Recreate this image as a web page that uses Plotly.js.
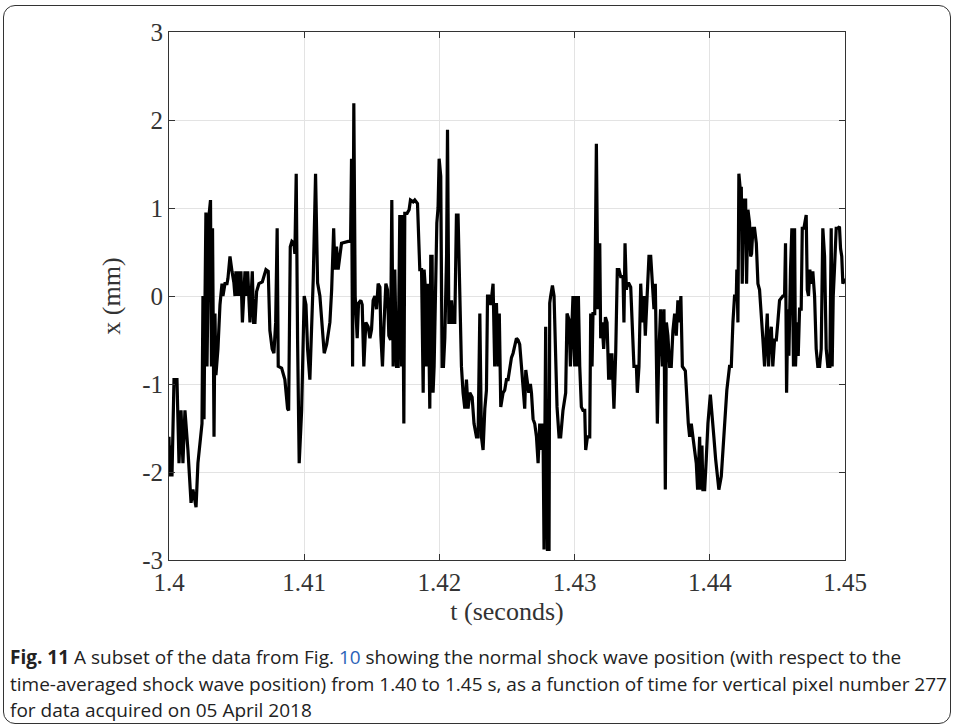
<!DOCTYPE html>
<html>
<head>
<meta charset="utf-8">
<script src="https://cdn.plot.ly/plotly-3.0.1.min.js"></script>
<style>
html,body{margin:0;padding:0;background:#fff;}
#wrap{position:relative;width:955px;height:728px;overflow:hidden;}
#frame{position:absolute;left:3px;top:5px;width:948px;height:719px;border:1.5px solid #333;border-radius:12px;box-sizing:border-box;pointer-events:none;}
#chart{position:absolute;left:0;top:0;width:955px;height:728px;}
</style>
</head>
<body>
<div id="wrap"><div id="chart"></div><div id="frame"></div></div>
<script>
// time (s)
const timeS = [
1.40000,1.40007,1.40015,1.40022,1.40037,1.40059,1.40074,1.40089,1.40103,1.40118,1.40140,1.40163,1.40177,1.40192,1.40200,1.40214,1.40244,1.40251,1.40259,1.40266,1.40273,1.40281,1.40296,1.40307,1.40314,1.40322,1.40333,1.40340,1.40347,1.40362,1.40377,1.40392,1.40399,1.40414,1.40429,1.40436,1.40451,1.40466,1.40480,1.40488,1.40495,1.40503,1.40514,1.40525,1.40532,1.40543,
1.40562,1.40574,1.40582,1.40599,1.40616,1.40626,1.40636,1.40648,1.40665,1.40690,1.40702,1.40717,1.40734,1.40746,1.40763,1.40776,1.40789,1.40800,1.40808,1.40833,1.40857,1.40877,1.40885,1.40897,1.40909,1.40924,1.40931,1.40941,1.40951,1.40963,1.40981,1.41000,1.41013,1.41025,1.41042,1.41055,1.41067,1.41084,1.41099,1.41116,1.41133,1.41148,1.41166,1.41190,
1.41203,1.41218,1.41227,1.41239,1.41251,1.41264,1.41276,1.41325,1.41343,1.41350,1.41358,1.41367,1.41377,1.41392,1.41402,1.41419,1.41429,1.41441,1.41456,1.41473,1.41486,1.41498,1.41510,1.41523,1.41535,1.41547,1.41560,1.41567,1.41579,1.41591,1.41604,1.41616,1.41626,1.41639,1.41648,1.41658,1.41670,1.41683,1.41695,1.41707,1.41720,1.41727,1.41737,1.41744,1.41761,1.41776,1.41786,1.41806,1.41818,1.41838,
1.41855,1.41868,1.41880,1.41887,1.41897,1.41905,1.41917,1.41929,1.41936,1.41946,1.41953,1.41961,1.41971,1.41981,1.41990,1.41998,1.42010,1.42020,1.42030,1.42040,1.42053,1.42060,1.42070,1.42079,1.42089,1.42101,1.42114,1.42126,1.42138,1.42151,1.42163,1.42175,1.42188,1.42200,1.42212,1.42225,1.42242,1.42256,1.42274,1.42286,1.42299,1.42311,1.42323,1.42336,1.42348,1.42356,1.42365,1.42380,1.42397,1.42409,1.42422,1.42434,1.42443,
1.42454,1.42471,1.42483,1.42496,1.42508,1.42520,1.42533,1.42545,1.42557,1.42570,1.42582,1.42594,1.42607,1.42619,1.42631,1.42639,1.42648,1.42661,1.42673,1.42681,1.42693,1.42705,1.42718,1.42730,1.42742,1.42755,1.42766,1.42774,1.42786,1.42799,1.42811,1.42816,1.42823,1.42836,1.42848,1.42860,1.42870,1.42885,1.42897,1.42914,1.42934,1.42944,1.42959,1.42969,1.42976,1.42988,1.43001,1.43008,1.43018,1.43028,1.43038,1.43050,1.43062,
1.43075,1.43082,1.43095,1.43112,1.43119,1.43129,1.43136,1.43149,1.43161,1.43173,1.43186,1.43193,1.43203,1.43215,1.43228,1.43240,1.43252,1.43259,1.43267,1.43276,1.43291,1.43304,1.43316,1.43328,1.43341,1.43358,1.43365,1.43373,1.43383,1.43390,1.43402,1.43415,1.43427,1.43439,1.43457,1.43464,1.43476,1.43489,1.43501,1.43513,1.43523,1.43538,1.43550,1.43563,1.43575,1.43587,1.43597,1.43612,1.43622,1.43636,1.43649,1.43661,1.43671,1.43679,1.43690,1.43703,1.43715,1.43727,
1.43740,1.43752,1.43764,1.43777,1.43786,1.43797,1.43819,1.43831,1.43841,1.43851,1.43863,1.43875,1.43888,1.43900,1.43910,1.43925,1.43932,1.43942,1.43949,1.43962,1.43974,1.43986,1.44004,1.44018,1.44030,1.44043,1.44055,1.44067,1.44085,1.44097,1.44109,1.44126,1.44146,1.44159,1.44171,1.44183,1.44196,1.44200,1.44208,1.44215,1.44226,1.44233,1.44240,1.44250,1.44265,1.44272,1.44282,1.44294,1.44302,1.44309,1.44319,1.44331,1.44344,1.44356,
1.44368,1.44381,1.44393,1.44405,1.44418,1.44425,1.44435,1.44442,1.44455,1.44466,1.44479,1.44492,1.44503,1.44516,1.44540,1.44553,1.44560,1.44568,1.44577,1.44585,1.44597,1.44607,1.44619,1.44627,1.44634,1.44644,1.44654,1.44664,1.44676,1.44684,1.44696,1.44706,1.44713,1.44721,1.44730,1.44740,1.44750,1.44762,1.44775,1.44787,1.44799,1.44812,1.44824,1.44836,1.44849,1.44861,1.44873,1.44888,1.44898,1.44905,1.44913,1.44922,1.44935,1.44947,1.44959,1.44967,1.44976,1.44984,1.45000
];
// shock position (mm)
const positionMm = [
-1.6,-2.05,-1.7,-2.05,-0.95,-0.95,-1.9,-1.3,-1.9,-1.3,-1.75,-2.35,-2.2,-2.35,-2.4,-1.9,-1.45,0,-1.4,-0.1,0.95,-0.8,0.92,1.09,-0.8,0.77,-1.6,-0.2,-0.9,-0.6,-0.1,0.14,0,0.14,0.14,0.2,0.45,0.28,0.15,0,0.28,0,0.28,0,0.28,-0.3,
0.28,0,0.28,-0.3,0.28,-0.3,-0.3,0.05,0.14,0.16,0.22,0.3,0.28,-0.39,-0.6,-0.65,-0.3,0.77,-0.8,-0.82,-0.95,-1.28,-1.3,0.56,0.62,0.6,0.48,1.39,-0.5,-1.9,-1.3,0,-0.1,-0.6,-0.95,-0.3,0.2,1.39,0.15,0,-0.3,-0.65,-0.55,-0.3,
0.07,0.77,0.3,0.56,0.3,0.45,0.6,0.62,0.62,1.56,-0.8,2.19,0,-0.48,-0.08,-0.05,-0.1,-0.8,-0.3,-0.35,-0.48,-0.38,-0.05,0,-0.15,0.14,0.1,-0.45,-0.8,-0.3,0.14,0.07,-0.45,-0.5,1.09,-0.8,0.3,-0.8,-0.8,0.92,-0.8,0.92,-1.45,0.94,0.94,0.98,1.09,1.07,1.09,1.05,
0.3,0.3,-1.1,0.3,0.07,-0.8,0.14,-1.28,0.45,0.45,-1.1,-0.8,0.3,0.83,1.0,1.56,1.36,-0.8,-0.8,-0.48,0.45,1.89,-0.3,-0.3,-0.05,-0.3,-0.3,0.92,0.92,0,-0.8,-1.1,-1.28,-0.95,-1.28,-1.1,-1.15,-1.45,-1.6,-1.6,-0.2,-1.6,-1.75,-1.28,-1.07,0,0,-0.1,0.14,-0.8,-0.08,-0.8,-0.2,
-1.26,-1.1,-1.07,-0.95,-0.95,-0.8,-0.7,-0.65,-0.55,-0.48,-0.5,-0.55,-0.8,-1.1,-1.28,-0.84,-0.95,-1.1,-1.0,-1.1,-1.4,-1.45,-1.6,-1.9,-1.45,-1.75,-1.45,-2.88,-0.35,-2.88,-2.88,-0.08,0,0.12,0,-0.7,-1.26,-1.6,-1.6,-1.3,-1.1,-0.2,-0.27,-0.8,-0.54,0,-0.8,0,-0.8,0,-0.8,-1.26,-1.3,
-1.3,-1.75,-1.6,-1.6,-0.2,-0.8,-0.2,-0.2,1.73,-0.15,0.6,-0.48,-0.3,-0.6,-0.24,-0.3,-0.95,-0.65,-0.95,-0.65,-1.28,-0.65,0.3,0.3,0.22,0.22,-0.3,0.6,0.07,0.14,0.14,0.1,-0.3,-0.8,-0.8,-1.1,-0.8,0.14,-0.3,0,-0.45,0.07,0.45,0.45,0.14,-0.15,0.14,-1.45,-0.7,-0.15,-0.8,-0.15,-2.2,-0.3,-0.45,-0.8,-0.8,-0.4,
-0.2,-0.45,-0.05,-0.3,0,-0.8,-0.85,-1.2,-1.45,-1.6,-1.45,-1.6,-1.75,-1.9,-2.2,-1.6,-2.2,-1.7,-2.2,-2.2,-1.85,-1.45,-1.12,-1.45,-1.6,-1.85,-2.05,-2.2,-2.05,-1.75,-1.4,-1.07,-0.8,-0.8,-0.3,0,0,0.3,-0.3,1.39,1.2,1.24,0.14,1.09,1.09,0.14,0.98,0.83,0.45,0.48,0.77,0.77,0.6,0.14,
0.07,-0.3,-0.5,-0.8,-0.3,-0.2,-0.8,-0.5,-0.35,-0.8,-0.5,-0.5,-0.3,-0.05,0,0,0.6,-1.1,-0.15,-0.68,0.3,0.77,-0.8,0.77,-0.8,-0.3,-0.68,-0.15,-0.15,0.77,0.77,0.85,0.92,0.07,0,0.3,0.14,0.28,0,-0.6,-0.8,-0.8,-0.6,0.77,0.45,-0.6,-0.8,-0.8,0.77,-0.8,0,0.3,0.77,0.77,0.79,0.54,0.45,0.14,0.2
];
const xTicks = [1.4, 1.41, 1.42, 1.43, 1.44, 1.45];
const xTickLabels = ['1.4', '1.41', '1.42', '1.43', '1.44', '1.45'];
const yTicks = [-3, -2, -1, 0, 1, 2, 3];
const yTickLabels = ['-3', '-2', '-1', '0', '1', '2', '3'];
const xLabel = 't (seconds)';
const yLabel = 'x (mm)';
const captionLines = [
  '<b>Fig. 11</b> A subset of the data from Fig. <span style="color:#2a63b8">10</span> showing the normal shock wave position (with respect to the',
  'time-averaged shock wave position) from 1.40 to 1.45 s, as a function of time for vertical pixel number 277',
  'for data acquired on 05 April 2018'
];

const serif = 'Liberation Serif, Times New Roman, serif';
const sans = 'Open Sans, Noto Sans, sans-serif';

const capY = [657, 684, 710];
const plotTop = 32, plotBottom = 560, plotLeft = 169, plotRight = 845;
const ph = plotBottom - plotTop, pw = plotRight - plotLeft;

const annotations = captionLines.map((txt, i) => ({
  text: txt, xref: 'paper', yref: 'paper',
  x: (8 - plotLeft) / pw, y: (plotBottom - capY[i]) / ph,
  xanchor: 'left', yanchor: 'middle', showarrow: false, align: 'left',
  font: {family: sans, size: 19, color: '#222'}
}));

Plotly.newPlot('chart', [{
  x: timeS, y: positionMm, type: 'scatter', mode: 'lines',
  line: {color: '#000', width: 3.2}, hoverinfo: 'skip'
}], {
  width: 955, height: 728,
  margin: {l: plotLeft, r: 955 - plotRight, t: plotTop, b: 728 - plotBottom, pad: 0},
  paper_bgcolor: '#fff', plot_bgcolor: '#fff',
  showlegend: false,
  xaxis: {
    range: [1.4, 1.45], tickvals: xTicks, ticktext: xTickLabels,
    ticks: 'inside', ticklen: 6, tickcolor: '#333', tickwidth: 1,
    showline: true, linecolor: '#333', linewidth: 1, mirror: 'allticks',
    showgrid: true, gridcolor: '#e3e3e3', gridwidth: 1, zeroline: false,
    tickfont: {family: serif, size: 25, color: '#333'},
    title: {text: xLabel, font: {family: serif, size: 26, color: '#333'}, standoff: 6},
    automargin: false
  },
  yaxis: {
    range: [-3, 3], tickvals: yTicks, ticktext: yTickLabels,
    ticks: 'inside', ticklen: 6, tickcolor: '#333', tickwidth: 1,
    showline: true, linecolor: '#333', linewidth: 1, mirror: 'allticks',
    showgrid: true, gridcolor: '#e3e3e3', gridwidth: 1, zeroline: false,
    tickfont: {family: serif, size: 25, color: '#333'},
    title: {text: yLabel, font: {family: serif, size: 26, color: '#333'}, standoff: 14},
    automargin: false
  },
  annotations: annotations
}, {staticPlot: true, displayModeBar: false});
</script>
</body>
</html>
